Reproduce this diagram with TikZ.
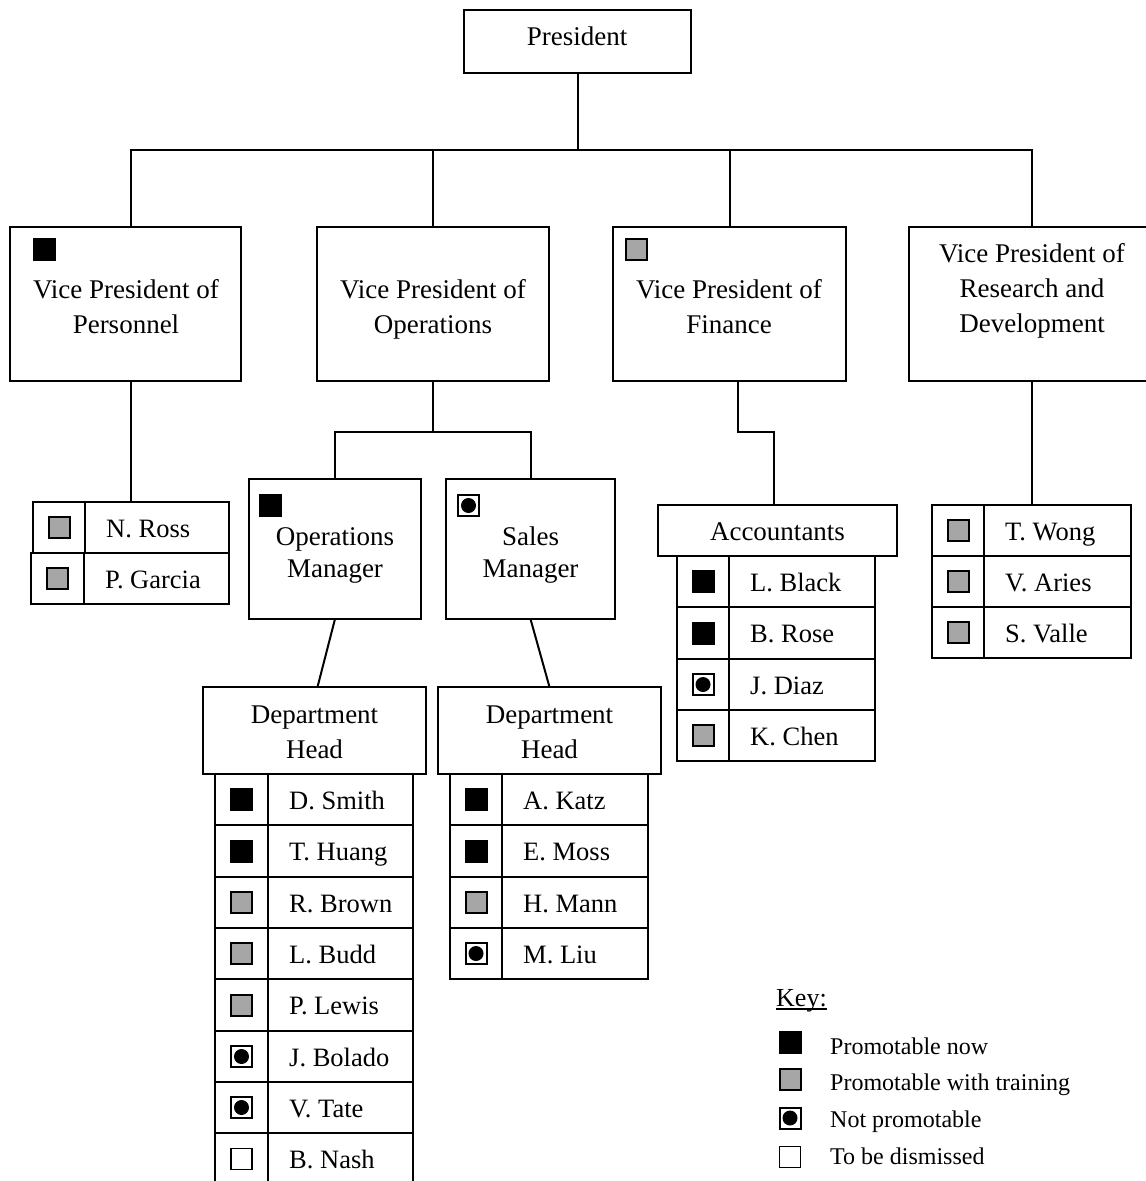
\documentclass[tikz,border=0pt]{standalone}
\usepackage{fontspec}
\setmainfont{Liberation Serif}
\definecolor{ggray}{HTML}{A6A6A6}
\tikzset{
  box/.style={draw, line width=2pt, inner sep=0pt, outer sep=0pt, anchor=north west, fill=white},
  btxt/.style={anchor=base, inner sep=0pt, font=\fontsize{27}{33}\selectfont},
  ntxt/.style={anchor=base west, inner sep=0pt, font=\fontsize{26.5}{32}\selectfont},
  ktxt/.style={anchor=base west, inner sep=0pt, font=\fontsize{24}{29}\selectfont},
  icb/.style={draw=black, fill=black, line width=1pt, minimum size=22pt, inner sep=0pt},
  icg/.style={draw=black, fill=ggray, line width=2pt, minimum size=21pt, inner sep=0pt},
  icn/.style={draw=black, fill=white, line width=2pt, minimum size=21pt, inner sep=0pt,
    path picture={\fill[black] (path picture bounding box.center) circle (7.5pt);}},
  ice/.style={draw=black, fill=white, line width=1.6pt, minimum size=21pt, inner sep=0pt},
  link/.style={line width=2pt},
}
% box: name, x-left, y-top, x-right, y-bottom
\newcommand\bx[5]{\node[box, minimum width=#4-#2, minimum height=#5-#3] (#1) at (#2,#3) {};}
% table row: name, xl, xdiv, xr, ytop, ybottom, icon style, text
\newcommand\trow[8]{%
  \bx{#1-i}{#2}{#5}{#3}{#6}
  \bx{#1-n}{#3}{#5}{#4}{#6}
  \node[#7] (#1-ic) at (#1-i.center) {};
  \node[ntxt] (#1-t) at ([shift={(21,9.5)}]#1-n.west) {#8};
}
\begin{document}
\begin{tikzpicture}[x=1pt,y=-1pt]
\path[use as bounding box] (0,0) rectangle (1146,1181);
\clip (0,0) rectangle (1146,1181);
\fill[white] (0,0) rectangle (1146,1181);

% ---------- boxes ----------
\bx{pres}{464}{10}{691}{73}
\bx{vpp}{10}{227}{241}{381}
\bx{vpo}{317}{227}{549}{381}
\bx{vpf}{613}{227}{846}{381}
\bx{vpr}{909}{227}{1155}{381}
\bx{om}{249}{479}{421}{619}
\bx{sm}{446}{479}{615}{619}
\bx{accbox}{658}{505}{897}{556}
\bx{dha}{203}{687}{426}{774}
\bx{dhb}{438}{687}{661}{774}

% ---------- box texts ----------
\node[btxt] (prest) at (577,45) {President};
\node[btxt] (vppt1) at (126,298) {Vice President of};
\node[btxt] (vppt2) at (126,333) {Personnel};
\node[btxt] (vpot1) at (433,298) {Vice President of};
\node[btxt] (vpot2) at (433,333) {Operations};
\node[btxt] (vpft1) at (729,298) {Vice President of};
\node[btxt] (vpft2) at (729,333) {Finance};
\node[btxt] (vprt1) at (1032,262) {Vice President of};
\node[btxt] (vprt2) at (1032,297) {Research and};
\node[btxt] (vprt3) at (1032,332) {Development};
\node[btxt] (omt1) at (335,545) {Operations};
\node[btxt] (omt2) at (335,577) {Manager};
\node[btxt] (smt1) at (530.5,545) {Sales};
\node[btxt] (smt2) at (530.5,577) {Manager};
\node[btxt] (dhat1) at (314.5,723) {Department};
\node[btxt] (dhat2) at (314.5,758) {Head};
\node[btxt] (dhbt1) at (549.5,723) {Department};
\node[btxt] (dhbt2) at (549.5,758) {Head};
\node[btxt] (acct) at (777.5,540) {Accountants};

% ---------- box icons ----------
\node[icb] (vppic) at (44.5,249) {};
\node[icg] (vpfic) at (636.5,249) {};
\node[icb] (omic) at (270.5,505) {};
\node[icn] (smic) at (468.5,505.5) {};

% ---------- tables ----------
\trow{pa}{33}{85}{229}{502}{553}{icg}{N. Ross}
\trow{pb}{31}{84}{229}{553}{604}{icg}{P. Garcia}

\trow{oa}{215}{268}{413}{774}{825}{icb}{D. Smith}
\trow{ob}{215}{268}{413}{825}{877}{icb}{T. Huang}
\trow{oc}{215}{268}{413}{877}{928}{icg}{R. Brown}
\trow{od}{215}{268}{413}{928}{979}{icg}{L. Budd}
\trow{oe}{215}{268}{413}{979}{1031}{icg}{P. Lewis}
\trow{of}{215}{268}{413}{1031}{1082}{icn}{J. Bolado}
\trow{og}{215}{268}{413}{1082}{1133}{icn}{V. Tate}
\trow{oh}{215}{268}{413}{1133}{1185}{ice}{B. Nash}

\trow{sa}{450}{502}{648}{774}{825}{icb}{A. Katz}
\trow{sb}{450}{502}{648}{825}{877}{icb}{E. Moss}
\trow{sc}{450}{502}{648}{877}{928}{icg}{H. Mann}
\trow{sd}{450}{502}{648}{928}{979}{icn}{M. Liu}

\trow{aa}{677}{729}{875}{556}{607}{icb}{L. Black}
\trow{ab}{677}{729}{875}{607}{659}{icb}{B. Rose}
\trow{ac}{677}{729}{875}{659}{710}{icn}{J. Diaz}
\trow{ad}{677}{729}{875}{710}{761}{icg}{K. Chen}

\trow{ra}{932}{984}{1131}{505}{556}{icg}{T. Wong}
\trow{rb}{932}{984}{1131}{556}{607}{icg}{V. Aries}
\trow{rc}{932}{984}{1131}{607}{658}{icg}{S. Valle}

% ---------- connectors ----------
\path (pres.south) ++(0,77) coordinate (bus);
\path (vpo.south) ++(0,51) coordinate (obus);
\coordinate (vpptop) at (131,227);
\coordinate (vppbot) at (131,381);
\draw[link] (pres.south) -- (bus);
\draw[link] (vpptop) |- (bus) -| (vpr.north);
\draw[link] (vpo.north) -- (vpo.north |- bus);
\draw[link] (vpf.north) -- (vpf.north |- bus);
\draw[link] (vppbot) -- (vppbot |- pa-n.north);
\draw[link] (vpo.south) -- (obus);
\draw[link] (om.north) |- (obus) -| (sm.north);
\draw[link] (om.south) -- ([xshift=3pt]dha.north);
\draw[link] (sm.south) -- (dhb.north);
\draw[link] ([xshift=8pt]vpf.south) -- ++(0,51) -| ([xshift=-3.5pt]accbox.north);
\draw[link] (vpr.south) -- (vpr.south |- ra-n.north);

% ---------- key ----------
\node[anchor=base west, inner sep=0pt, font=\fontsize{26}{31}\selectfont] (keyt) at (776,1006.5) {Key:};
\draw[line width=1.5pt] ([yshift=-2.5pt]keyt.base west) -- ([yshift=-2.5pt]keyt.base east);
\node[icb] (k1) at (790,1042) {};
\node[icg] (k2) at (790,1079) {};
\node[icn] (k3) at (790,1118) {};
\node[ice] (k4) at (790,1157) {};
\node[ktxt] (k1t) at (830,1054) {Promotable now};
\node[ktxt] (k2t) at (830,1090) {Promotable with training};
\node[ktxt] (k3t) at (830,1127) {Not promotable};
\node[ktxt] (k4t) at (830,1164) {To be dismissed};
\end{tikzpicture}
\end{document}
